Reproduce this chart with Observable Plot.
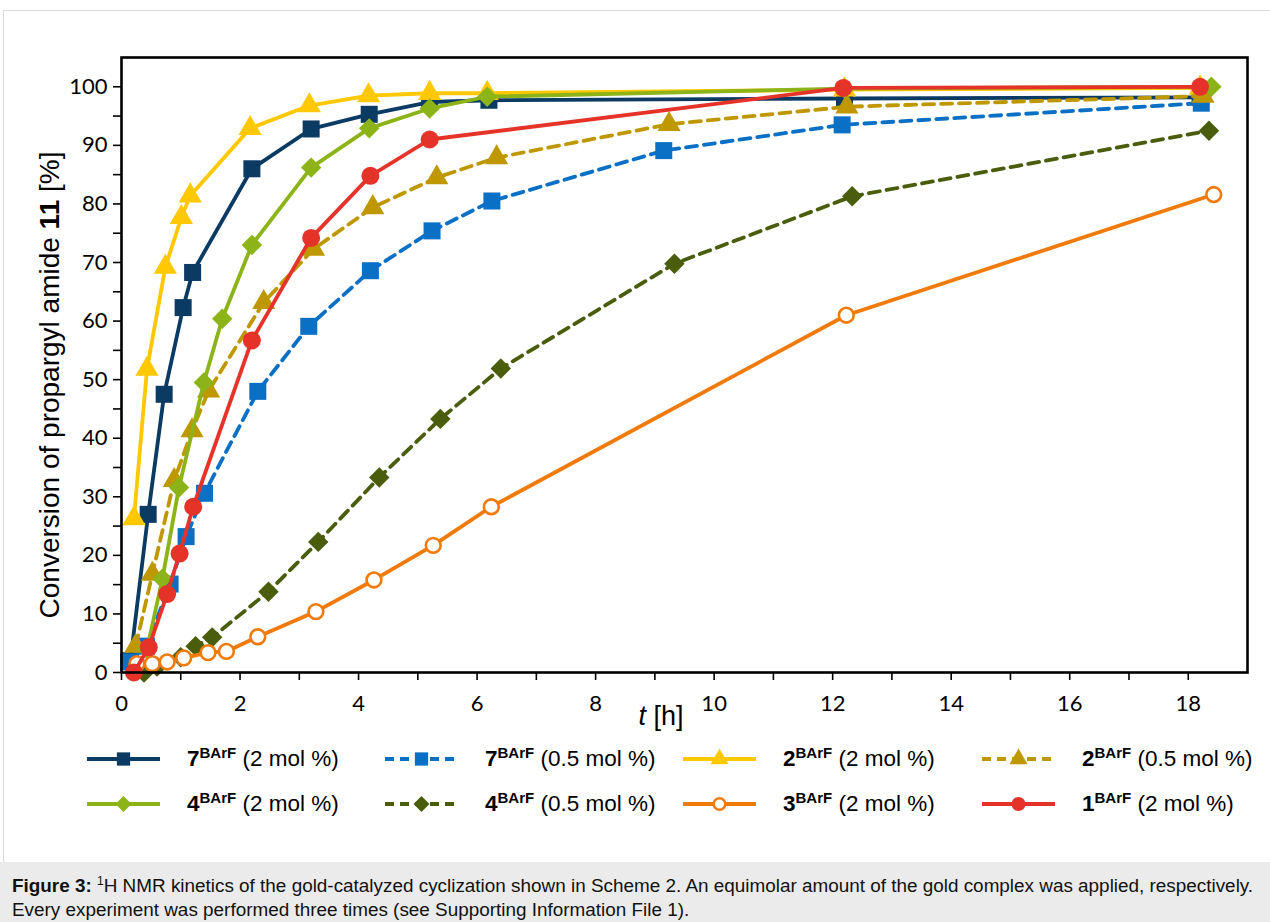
<!DOCTYPE html>
<html><head><meta charset="utf-8">
<script src="https://cdn.jsdelivr.net/npm/d3@7"></script>
<script src="https://cdn.jsdelivr.net/npm/@observablehq/plot@0.6"></script>
<style>
body{margin:0;background:#fff;width:1270px;height:922px;overflow:hidden;position:relative;font-family:"Liberation Sans",Arial,sans-serif;color:#000}
#panel{position:absolute;left:3px;top:10px;width:1300px;height:851px;border-left:1px solid #dadada;border-top:1px solid #dadada}
#chart{position:absolute;left:0;top:0}
#ylabel{position:absolute;left:50px;top:385px;transform:translate(-50%,-50%) rotate(-90deg);font-size:28px;white-space:nowrap}
#xlabel{position:absolute;left:661px;top:716px;transform:translate(-50%,-50%);font-size:27px;white-space:nowrap}
.leg{position:absolute;height:24px;display:flex;align-items:center;font-size:22.5px;white-space:nowrap}
.leg svg{flex:none}
.leg .tx{margin-left:27px}
.leg sup{font-size:15px;font-weight:bold;vertical-align:0;position:relative;top:-8px}
#caption{position:absolute;left:0;top:862px;width:1270px;height:60px;background:#ebebeb;font-size:18.9px;line-height:21px;padding:13px 0 0 12px;box-sizing:border-box;color:#111;white-space:nowrap}
#caption sup{font-size:12px;vertical-align:0;position:relative;top:-7px}
</style></head>
<body>
<div id="panel"></div>
<div id="chart"></div>
<div id="ylabel">Conversion of propargyl amide <b>11</b> [%]</div>
<div id="xlabel"><i>t</i> [h]</div>
<div id="legend"></div>
<div id="caption"><b>Figure 3:</b> <sup>1</sup>H NMR kinetics of the gold-catalyzed cyclization shown in Scheme 2. An equimolar amount of the gold complex was applied, respectively.<br>Every experiment was performed three times (see Supporting Information File 1).</div>
<script>
// ---- data (t in h, conversion in %) ----
const s7_2_t  = [0.15, 0.45, 0.72, 1.04, 1.2, 2.2, 3.2, 4.18, 5.2, 6.2, 12.2, 18.2];
const s7_2_v  = [2, 27, 47.5, 62.3, 68.3, 86, 92.8, 95.3, 97.4, 97.7, 98.0, 98.2];
const s7_05_t = [0.12, 0.42, 0.82, 1.09, 1.4, 2.3, 3.16, 4.2, 5.24, 6.25, 9.15, 12.16, 18.22];
const s7_05_v = [1.8, 4.5, 15.1, 23.2, 30.6, 48, 59.1, 68.6, 75.4, 80.5, 89.1, 93.5, 97.2];
const s2_2_t  = [0.21, 0.43, 0.74, 1.01, 1.16, 2.17, 3.17, 4.17, 5.2, 6.17, 12.2, 18.2];
const s2_2_v  = [26.3, 51.8, 69.2, 77.7, 81.4, 92.9, 96.8, 98.5, 98.9, 98.9, 99.5, 99.8];
const s2_05_t = [0.24, 0.52, 0.89, 1.19, 1.47, 2.4, 3.24, 4.24, 5.32, 6.33, 9.24, 12.24, 18.25];
const s2_05_v = [4.5, 16.8, 32.8, 41.3, 48.1, 63.2, 72.3, 79.4, 84.5, 87.9, 93.6, 96.6, 98.4];
const s4_2_t  = [0.43, 0.69, 0.97, 1.39, 1.7, 2.2, 3.2, 4.18, 5.2, 6.17, 12.2, 18.39];
const s4_2_v  = [4, 16, 31.6, 49.5, 60.4, 73, 86.2, 92.9, 96.3, 98.3, 99.7, 100];
const s4_05_t = [0.38, 0.6, 1.0, 1.25, 1.53, 2.48, 3.32, 4.35, 5.38, 6.4, 9.33, 12.33, 18.35];
const s4_05_v = [0, 1, 2.6, 4.5, 6, 13.8, 22.3, 33.3, 43.3, 51.9, 69.8, 81.3, 92.5];
const s3_2_t  = [0.26, 0.52, 0.77, 1.05, 1.46, 1.77, 2.3, 3.28, 4.26, 5.26, 6.24, 12.23, 18.43];
const s3_2_v  = [1.5, 1.5, 1.8, 2.5, 3.4, 3.6, 6.1, 10.4, 15.8, 21.7, 28.3, 61, 81.6];
const s1_2_t  = [0.21, 0.46, 0.77, 0.98, 1.21, 2.2, 3.2, 4.2, 5.2, 12.18, 18.2];
const s1_2_v  = [0, 4.3, 13.4, 20.3, 28.3, 56.7, 74.2, 84.8, 91, 99.8, 100];

const legendNums   = ["7", "7", "2", "2", "4", "4", "3", "1"];
const legendLoads  = ["(2 mol %)", "(0.5 mol %)", "(2 mol %)", "(0.5 mol %)", "(2 mol %)", "(0.5 mol %)", "(2 mol %)", "(2 mol %)"];
const xMajorTicks = [0, 2, 4, 6, 8, 10, 12, 14, 16, 18];
const xMinorTicks = [1, 3, 5, 7, 9, 11, 13, 15, 17];
const yMajorTicks = [0, 10, 20, 30, 40, 50, 60, 70, 80, 90, 100];
const yMinorTicks = [5, 15, 25, 35, 45, 55, 65, 75, 85, 95];

// ---- styles ----
const series = [
  {t: s7_2_t,  v: s7_2_v,  color: "#0b3a63", dash: null,   symbol: "square",   r: 9.6, fill: null},
  {t: s7_05_t, v: s7_05_v, color: "#0a70c6", dash: "11,7", symbol: "square",   r: 9.6, fill: null},
  {t: s2_2_t,  v: s2_2_v,  color: "#ffc800", dash: null,   symbol: "triangle", r: 8.6, fill: null},
  {t: s2_05_t, v: s2_05_v, color: "#bf9800", dash: "11,7", symbol: "triangle", r: 8.6, fill: null},
  {t: s4_2_t,  v: s4_2_v,  color: "#8cb318", dash: null,   symbol: "diamond2", r: 9.2, fill: null},
  {t: s4_05_t, v: s4_05_v, color: "#4a5d0c", dash: "11,7", symbol: "diamond2", r: 9.2, fill: null},
  {t: s3_2_t,  v: s3_2_v,  color: "#f07a0a", dash: null,   symbol: "circle",   r: 7.4, fill: "#fff"},
  {t: s1_2_t,  v: s1_2_v,  color: "#e5332a", dash: null,   symbol: "circle",   r: 9,   fill: null}
];

const marks = [];
series.forEach(s => {
  const data = s.t.map((t, i) => ({t, v: s.v[i]}));
  marks.push(Plot.line(data, {x: "t", y: "v", stroke: s.color, strokeWidth: 3.8, strokeDasharray: s.dash, strokeLinejoin: "round"}));
  marks.push(Plot.dot(data, {x: "t", y: "v", symbol: s.symbol, r: s.r,
    fill: s.fill || s.color, stroke: s.fill ? s.color : "none", strokeWidth: s.fill ? 2.6 : 0}));
});

const chart = Plot.plot({
  width: 1270, height: 740,
  marginLeft: 121, marginRight: 23, marginTop: 57, marginBottom: 68,
  x: {domain: [0, 19]},
  y: {domain: [0, 105]},
  style: {fontFamily: "Lato, 'Open Sans', sans-serif", background: "transparent", color: "#000", overflow: "visible"},
  marks: [
    Plot.axisX({ticks: xMajorTicks, tickSize: 8, tickPadding: 15, fontSize: 22, label: null, strokeWidth: 1.6}),
    Plot.axisX({ticks: xMinorTicks, tickSize: 8, tickFormat: () => "", label: null, strokeWidth: 1.6}),
    Plot.axisY({ticks: yMajorTicks, tickSize: 8, tickPadding: 6, fontSize: 22, label: null, strokeWidth: 1.6}),
    Plot.axisY({ticks: yMinorTicks, tickSize: 8, tickFormat: () => "", label: null, strokeWidth: 1.6}),
    ...marks,
    Plot.frame({stroke: "#000", strokeWidth: 2.6})
  ]
});
document.getElementById("chart").appendChild(chart);

// ---- legend ----
const legCols = [87, 385, 683, 982];
const legRows = [759, 804];
const leg = document.getElementById("legend");
const symMap = {square: d3.symbolSquare, triangle: d3.symbolTriangle, diamond2: d3.symbolDiamond2, circle: d3.symbolCircle};
series.forEach((s, i) => {
  const col = i % 4, row = Math.floor(i / 4);
  const div = document.createElement("div");
  div.className = "leg";
  div.style.left = legCols[col] + "px";
  div.style.top = (legRows[row] - 12) + "px";
  const svg = d3.create("svg").attr("width", 73).attr("height", 24);
  svg.append("line").attr("x1", 0).attr("x2", 73).attr("y1", 12).attr("y2", 12)
    .attr("stroke", s.color).attr("stroke-width", 4).attr("stroke-dasharray", s.dash ? "9,6" : null);
  const scale = 0.78;
  svg.append("path").attr("transform", "translate(36.5,12)")
    .attr("d", d3.symbol(symMap[s.symbol], Math.PI * (s.r * scale) ** 2)())
    .attr("fill", s.fill || s.color).attr("stroke", s.fill ? s.color : "none").attr("stroke-width", s.fill ? 2.4 : 0);
  div.appendChild(svg.node());
  const tx = document.createElement("span");
  tx.className = "tx";
  tx.innerHTML = "<b>" + legendNums[i] + "</b><sup>BArF</sup> " + legendLoads[i];
  div.appendChild(tx);
  leg.appendChild(div);
});
</script>
</body></html>
